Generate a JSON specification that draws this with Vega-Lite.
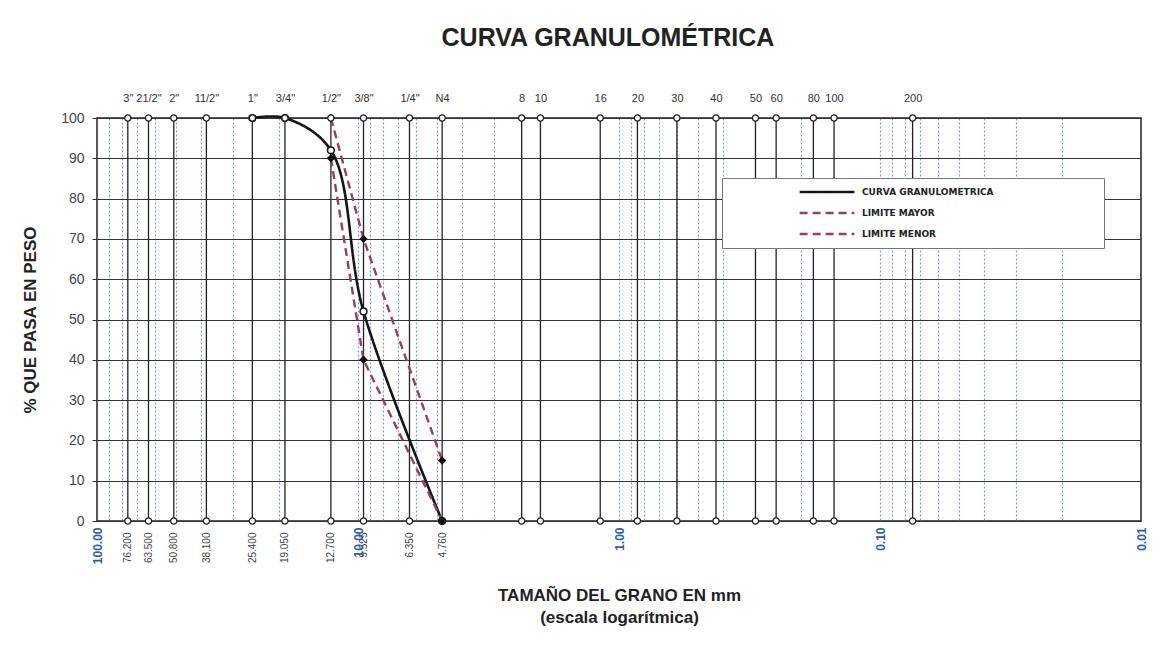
{
  "$schema": "https://vega.github.io/schema/vega-lite/v6.json",
  "width": 1044,
  "height": 403,
  "autosize": "none",
  "padding": {"left": 97, "top": 118, "right": 30, "bottom": 132},
  "background": "white",
  "title": {"text": "CURVA GRANULOMÉTRICA", "font": "'Liberation Sans Narrow', 'Liberation Sans', sans-serif", "fontSize": 25, "fontWeight": "bold", "color": "#222", "anchor": "middle", "offset": 41, "dx": -11},
  "datasets": {
    "sieves": [
      {"malla": "3\"", "mm": 76.2},
      {"malla": "21/2\"", "mm": 63.5},
      {"malla": "2\"", "mm": 50.8},
      {"malla": "11/2\"", "mm": 38.1},
      {"malla": "1\"", "mm": 25.4},
      {"malla": "3/4\"", "mm": 19.05},
      {"malla": "1/2\"", "mm": 12.7},
      {"malla": "3/8\"", "mm": 9.525},
      {"malla": "1/4\"", "mm": 6.35},
      {"malla": "N4", "mm": 4.76},
      {"malla": "8", "mm": 2.36},
      {"malla": "10", "mm": 2.0},
      {"malla": "16", "mm": 1.18},
      {"malla": "20", "mm": 0.85},
      {"malla": "30", "mm": 0.6},
      {"malla": "40", "mm": 0.425},
      {"malla": "50", "mm": 0.3},
      {"malla": "60", "mm": 0.25},
      {"malla": "80", "mm": 0.18},
      {"malla": "100", "mm": 0.15},
      {"malla": "200", "mm": 0.075}
    ],
    "curves": [
      {"serie": "CURVA GRANULOMETRICA", "mm": 25.4, "pct": 100},
      {"serie": "CURVA GRANULOMETRICA", "mm": 19.05, "pct": 100},
      {"serie": "CURVA GRANULOMETRICA", "mm": 12.7, "pct": 92},
      {"serie": "CURVA GRANULOMETRICA", "mm": 9.525, "pct": 52},
      {"serie": "CURVA GRANULOMETRICA", "mm": 4.76, "pct": 0},
      {"serie": "LIMITE MAYOR", "mm": 12.7, "pct": 100},
      {"serie": "LIMITE MAYOR", "mm": 9.525, "pct": 70},
      {"serie": "LIMITE MAYOR", "mm": 4.76, "pct": 15},
      {"serie": "LIMITE MENOR", "mm": 12.7, "pct": 90},
      {"serie": "LIMITE MENOR", "mm": 9.525, "pct": 40},
      {"serie": "LIMITE MENOR", "mm": 4.76, "pct": 0}
    ]
  },
  "layer": [
    {
      "data": {"name": "sieves"},
      "mark": {"type": "rule", "color": "#222", "strokeWidth": 1.3},
      "encoding": {
        "x": {"field": "mm", "type": "quantitative", "scale": {"type": "log", "domain": [0.01, 100], "reverse": true, "nice": false},
          "axis": {"orient": "top", "title": null, "values": [76.2, 63.5, 50.8, 38.1, 25.4, 19.05, 12.7, 9.525, 6.35, 4.76, 2.36, 2.0, 1.18, 0.85, 0.6, 0.425, 0.3, 0.25, 0.18, 0.15, 0.075],
            "labelExpr": "['3\"','21/2\"','2\"','11/2\"','1\"','3/4\"','1/2\"','3/8\"','1/4\"','N4','8','10','16','20','30','40','50','60','80','100','200'][indexof([76.2,63.5,50.8,38.1,25.4,19.05,12.7,9.525,6.35,4.76,2.36,2.0,1.18,0.85,0.6,0.425,0.3,0.25,0.18,0.15,0.075], datum.value)]",
            "ticks": false, "domain": false, "grid": false, "labelPadding": 15, "labelFontSize": 11, "labelColor": "#333", "labelOverlap": false, "labelAngle": 0, "labelBound": false}},
        "y": {"datum": 0, "type": "quantitative", "scale": {"domain": [0, 100], "nice": false}},
        "y2": {"datum": 100}
      }
    },
    {
      "data": {"name": "sieves"},
      "mark": {"type": "point", "filled": true, "fill": "white", "stroke": "#222", "strokeWidth": 1.3, "size": 38, "opacity": 1},
      "encoding": {
        "x": {"field": "mm", "type": "quantitative", "scale": {"type": "log", "domain": [0.01, 100], "reverse": true, "nice": false},
          "axis": {"orient": "bottom", "title": null, "values": [76.2, 63.5, 50.8, 38.1, 25.4, 19.05, 12.7, 9.525, 6.35, 4.76],
            "labelExpr": "format(datum.value, '.3f')", "labelAngle": -90, "ticks": false, "domain": false, "grid": false,
            "labelPadding": 11, "labelFontSize": 10, "labelColor": "#444", "labelOverlap": false, "labelBound": false}},
        "y": {"datum": 0, "type": "quantitative", "scale": {"domain": [0, 100], "nice": false}}
      }
    },
    {
      "data": {"name": "curves"},
      "transform": [{"filter": "datum.serie === 'CURVA GRANULOMETRICA'"}],
      "mark": {"type": "line", "interpolate": "catmull-rom", "strokeWidth": 2.6},
      "encoding": {
        "x": {"field": "mm", "type": "quantitative", "scale": {"type": "log", "domain": [0.01, 100], "reverse": true, "nice": false},
          "axis": {"orient": "bottom", "values": [100, 10, 1, 0.1, 0.01], "labelExpr": "format(datum.value, '.2f')", "labelAngle": -90,
            "ticks": false, "domain": false, "grid": false, "labelPadding": 6, "labelFontSize": 12, "labelFontWeight": "bold", "labelColor": "#2f5d9e",
            "labelOverlap": false, "labelBound": false,
            "title": ["TAMAÑO DEL GRANO EN mm", "(escala logarítmica)"], "titleFontSize": 17, "titleFontWeight": "bold", "titleColor": "#222", "titleLineHeight": 22, "titlePadding": 24}},
        "y": {"field": "pct", "type": "quantitative", "scale": {"domain": [0, 100], "nice": false},
          "axis": {"values": [0, 10, 20, 30, 40, 50, 60, 70, 80, 90, 100], "grid": true, "gridColor": "#333", "gridWidth": 1.2, "domain": false,
            "tickColor": "#333", "tickSize": 5, "labelPadding": 8, "labelFontSize": 14, "labelColor": "#444",
            "title": "% QUE PASA EN PESO", "titleFontSize": 17, "titleFontWeight": "bold", "titleColor": "#222", "titlePadding": 21}},
        "color": {"field": "serie", "type": "nominal",
          "scale": {"domain": ["CURVA GRANULOMETRICA", "LIMITE MAYOR", "LIMITE MENOR"], "range": ["#151515", "#94405f", "#94405f"]},
          "legend": {"orient": "none", "legendX": 625, "legendY": 60, "title": null, "fillColor": "white", "strokeColor": "#777", "padding": 6,
            "symbolType": "M-1,0H1", "symbolSize": 3000, "symbolStrokeWidth": 2.4, "symbolOffset": 70, "clipHeight": 16, "rowPadding": 5,
            "labelFont": "'DejaVu Sans', sans-serif", "labelFontSize": 9, "labelFontWeight": "bold", "labelColor": "#222", "labelOffset": 6,
            "labelExpr": "datum.label + '\u00a0\u00a0\u00a0\u00a0\u00a0\u00a0\u00a0\u00a0\u00a0\u00a0\u00a0\u00a0\u00a0\u00a0\u00a0\u00a0\u00a0\u00a0\u00a0\u00a0\u00a0\u00a0\u00a0\u00a0\u00a0\u00a0\u00a0\u00a0\u00a0\u00a0\u00a0\u2800'", "labelLimit": 400}},
        "strokeDash": {"field": "serie", "type": "nominal",
          "scale": {"domain": ["CURVA GRANULOMETRICA", "LIMITE MAYOR", "LIMITE MENOR"], "range": [[1, 0], [8, 5], [8, 5]]}}
      }
    },
    {
      "data": {"name": "curves"},
      "transform": [{"filter": "datum.serie !== 'CURVA GRANULOMETRICA'"}],
      "mark": {"type": "line", "interpolate": "linear", "strokeWidth": 2.4},
      "encoding": {
        "x": {"field": "mm", "type": "quantitative", "scale": {"type": "log", "domain": [0.01, 100], "reverse": true, "nice": false}, "axis": null},
        "y": {"field": "pct", "type": "quantitative", "scale": {"domain": [0, 100], "nice": false}},
        "color": {"field": "serie", "type": "nominal",
          "scale": {"domain": ["CURVA GRANULOMETRICA", "LIMITE MAYOR", "LIMITE MENOR"], "range": ["#151515", "#94405f", "#94405f"]}},
        "strokeDash": {"field": "serie", "type": "nominal",
          "scale": {"domain": ["CURVA GRANULOMETRICA", "LIMITE MAYOR", "LIMITE MENOR"], "range": [[1, 0], [8, 5], [8, 5]]}}
      }
    },
    {
      "data": {"name": "curves"},
      "transform": [{"filter": "datum.serie === 'CURVA GRANULOMETRICA'"}],
      "mark": {"type": "point", "filled": true, "fill": "white", "stroke": "#151515", "strokeWidth": 1.5, "size": 45, "opacity": 1},
      "encoding": {
        "x": {"field": "mm", "type": "quantitative", "scale": {"type": "log", "domain": [0.01, 100], "reverse": true, "nice": false},
          "axis": {"orient": "bottom", "title": null, "labels": false, "ticks": false, "domain": false, "grid": true,
            "values": [90, 80, 70, 60, 50, 40, 30, 20, 10, 9, 8, 7, 6, 5, 4, 3, 2, 1, 0.9, 0.8, 0.7, 0.6, 0.5, 0.4, 0.3, 0.2, 0.1, 0.09, 0.08, 0.07, 0.06, 0.05, 0.04, 0.03, 0.02],
            "gridColor": "#5f86c4", "gridDash": [2, 2], "gridWidth": 1.2, "gridOpacity": 0.8}},
        "y": {"field": "pct", "type": "quantitative", "scale": {"domain": [0, 100], "nice": false}}
      }
    },
    {
      "data": {"name": "curves"},
      "transform": [{"filter": "datum.serie !== 'CURVA GRANULOMETRICA'"}],
      "mark": {"type": "point", "filled": true, "shape": "diamond", "color": "#111", "size": 70, "opacity": 1},
      "encoding": {
        "x": {"field": "mm", "type": "quantitative", "scale": {"type": "log", "domain": [0.01, 100], "reverse": true, "nice": false}, "axis": null},
        "y": {"field": "pct", "type": "quantitative", "scale": {"domain": [0, 100], "nice": false}}
      }
    },
    {
      "data": {"name": "sieves"},
      "mark": {"type": "point", "filled": true, "fill": "white", "stroke": "#222", "strokeWidth": 1.3, "size": 38, "opacity": 1},
      "encoding": {
        "x": {"field": "mm", "type": "quantitative", "scale": {"type": "log", "domain": [0.01, 100], "reverse": true, "nice": false}, "axis": null},
        "y": {"datum": 100, "type": "quantitative", "scale": {"domain": [0, 100], "nice": false}}
      }
    }
  ],
  "resolve": {"axis": {"x": "independent"}},
  "config": {
    "font": "'Liberation Sans Narrow', 'Liberation Sans', sans-serif",
    "view": {"stroke": "#222", "strokeWidth": 1.5},
    "axis": {"labelFont": "'Liberation Sans Narrow', 'Liberation Sans', sans-serif", "titleFont": "'Liberation Sans', sans-serif"},
    "legend": {"labelFont": "'DejaVu Sans', sans-serif"}
  }
}
